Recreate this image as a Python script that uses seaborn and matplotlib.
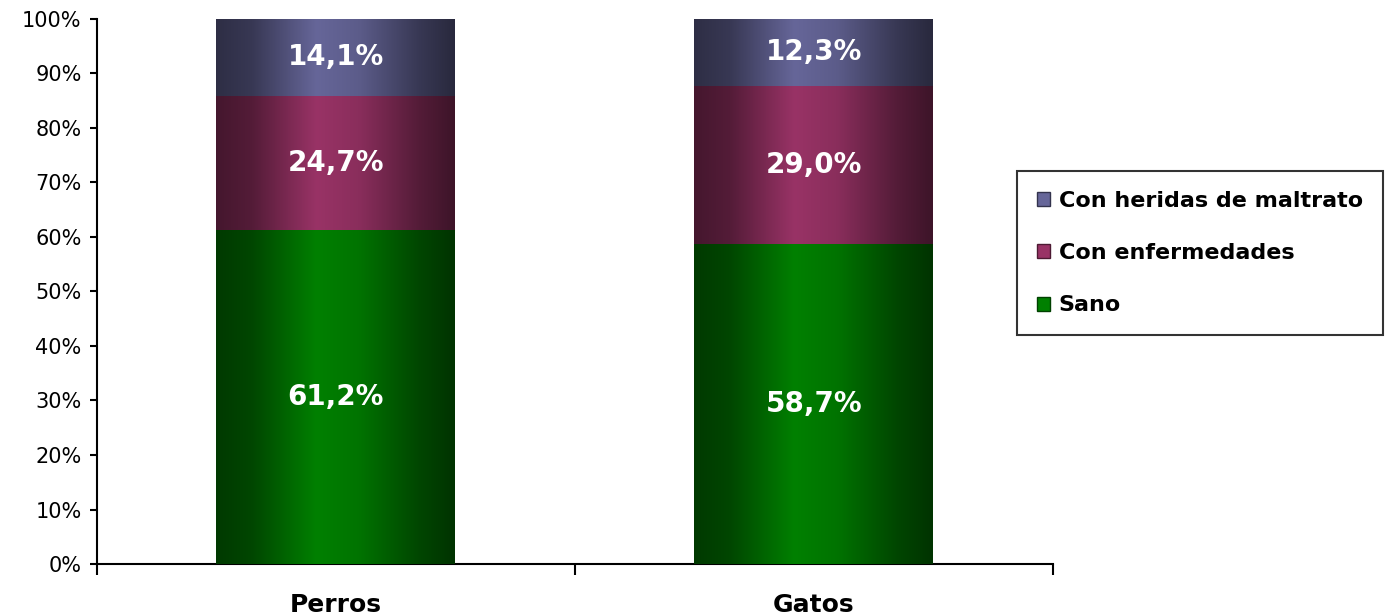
import numpy as np
import pandas as pd
import seaborn as sns
from matplotlib import pyplot as plt
from matplotlib.colors import to_rgb
from matplotlib.patches import Rectangle
from matplotlib.ticker import PercentFormatter

# data
animals = ["Perros", "Gatos"]
series = ["Sano", "Con enfermedades", "Con heridas de maltrato"]
sano = [61.2, 58.7]
enfermedades = [24.7, 29.0]
heridas = [14.1, 12.3]
colors = ["#008000", "#993366", "#666699"]

values = [sano, enfermedades, heridas]
cum = np.cumsum(np.array(values), axis=0)

sns.set_style("white")
plt.rcParams["font.family"] = ["DejaVu Sans"]
plt.rcParams["text.color"] = "black"
plt.rcParams["xtick.color"] = "black"
plt.rcParams["ytick.color"] = "black"

fig = plt.figure(figsize=(13.85, 6.16), dpi=100)
ax = fig.add_axes([0.070, 0.0844, 0.690, 0.8848])

# stacked bars by overdrawing cumulative totals, top series first
for k in range(len(series) - 1, -1, -1):
    df = pd.DataFrame({"animal": animals, "total": cum[k]})
    sns.barplot(data=df, x="animal", y="total", color=colors[k],
                width=0.5, saturation=1, ax=ax, zorder=2)

# cylinder-like shading for each visible segment
stops = [0.0, 0.15, 0.42, 0.6, 0.85, 1.0]
factors = [0.45, 0.55, 1.0, 0.9, 0.55, 0.4]
t = np.linspace(0, 1, 200)
shade = np.interp(t, stops, factors)
for k in range(len(series)):
    base = np.array(to_rgb(colors[k]))
    img = (shade[:, None] * base[None, :])[None, :, :]
    for i in range(len(animals)):
        bottom = cum[k - 1][i] if k > 0 else 0
        top = cum[k][i]
        ax.imshow(img, extent=(i - 0.25, i + 0.25, bottom, top),
                  aspect="auto", zorder=3 + k, interpolation="bilinear")
        ax.text(i, (bottom + top) / 2, f"{values[k][i]:.1f}%".replace(".", ","),
                ha="center", va="center", color="white", fontsize=20,
                fontweight="bold", zorder=10)

ax.set_xlim(-0.5, 1.5)
ax.set_ylim(0, 100)
ax.set_xlabel("")
ax.set_ylabel("")
ax.yaxis.set_major_locator(plt.MultipleLocator(10))
ax.yaxis.set_major_formatter(PercentFormatter(decimals=0))
ax.set_xticks([0, 1])
ax.set_xticklabels(animals, fontsize=18, fontweight="bold")
ax.set_xticks([-0.5, 0.5, 1.5], minor=True)
ax.tick_params(axis="x", which="major", length=0, pad=21, bottom=True)
ax.tick_params(axis="x", which="minor", length=8, width=1.5,
               direction="out", bottom=True)
ax.tick_params(axis="y", length=5, width=1.5, direction="out",
               labelsize=15, pad=6, left=True)
for side in ["top", "right"]:
    ax.spines[side].set_visible(False)
for side in ["left", "bottom"]:
    ax.spines[side].set_color("black")
    ax.spines[side].set_linewidth(1.5)

# legend
handles = [Rectangle((0, 0), 1, 1, facecolor=colors[k],
                     edgecolor=np.array(to_rgb(colors[k])) * 0.5, lw=1)
           for k in range(len(series) - 1, -1, -1)]
leg = fig.legend(handles, series[::-1], loc="center left",
                 bbox_to_anchor=(0.734, 0.589), frameon=True, fancybox=False,
                 prop={"weight": "bold", "size": 16}, handlelength=0.6,
                 handleheight=0.6, handletextpad=0.4, labelspacing=1.45,
                 borderpad=0.9, borderaxespad=0)
leg.get_frame().set_edgecolor("black")
leg.get_frame().set_linewidth(1.5)
for txt in leg.get_texts():
    txt.set_color("black")

fig.savefig("out.png", dpi=100)
